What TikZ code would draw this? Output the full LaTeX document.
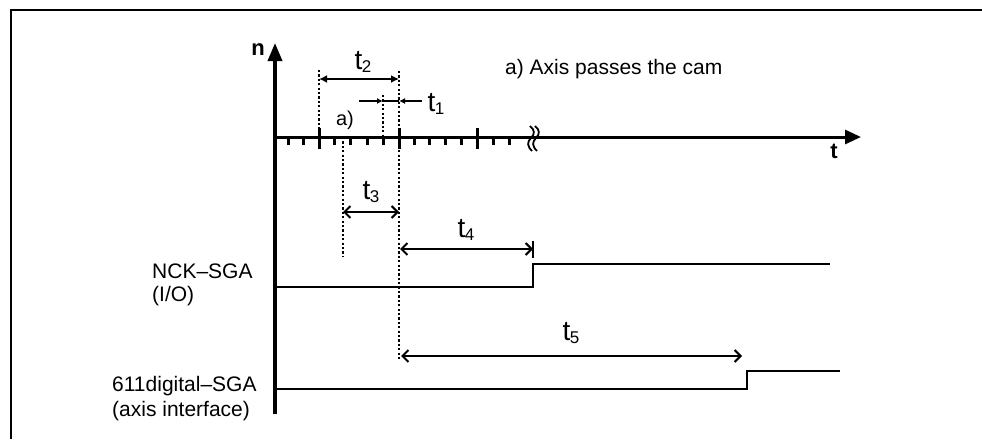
\documentclass[tikz,border=0pt]{standalone}
\usepackage{fontspec}
\setmainfont{Liberation Sans}
\usetikzlibrary{arrows.meta}
\newcommand\tlab[1]{t\kern-0.5pt\raisebox{-3.5pt}{\fontsize{17}{17}\selectfont #1}}
\begin{document}
\begin{tikzpicture}[x=1pt,y=-1pt,
  lbl/.style={inner sep=0pt, anchor=west, font=\fontsize{21}{24}\selectfont},
  tl/.style={inner sep=0pt, font=\fontsize{28}{30}\selectfont},
  axlbl/.style={inner sep=0pt, font=\fontsize{22}{24}\selectfont\bfseries},
  dotline/.style={line width=1.8pt, dash pattern=on 2.2pt off 2.2pt},
  dimline/.style={line width=1.7pt, {Straight Barb[length=6pt,width=12pt,line width=2pt]}-{Straight Barb[length=6pt,width=12pt,line width=2pt]}},
  fdim/.style={line width=1.9pt, {Latex[length=8pt,width=8pt]}-{Latex[length=8pt,width=8pt]}},
  small/.style={line width=1.7pt, -{Latex[length=6pt,width=6pt]}},
  minortick/.style={line width=3pt},
  majortick/.style={line width=3pt},
  signal/.style={line width=1.5pt},
  signalb/.style={line width=2.5pt}]
\useasboundingbox (0,0) rectangle (982,439);
% frame
\coordinate (fbl) at (11,439);
\coordinate (ftl) at (11,10);
\coordinate (ftr) at (982,10);
\draw[line width=1.8pt] (fbl) -- (ftl) -- (ftr);
% axes
\coordinate (o) at (275,137);
\coordinate (vbot) at (275,414);
\coordinate (vtop) at (275,43);
\coordinate (hend) at (861,137);
\draw[line width=3.5pt, -{Triangle[length=18pt,width=14pt]}] (vbot) -- (vtop);
\draw[line width=3pt, -{Triangle[length=16pt,width=14pt]}] (o) -- (hend);
\node[axlbl] (n) at (258,50) {n};
\node[axlbl] (t) at (834,151) {t};
% ticks
\foreach \x in {288,303,334,350,367,383,414,429,445,461,493,509}
  \draw[minortick] (\x,137) -- (\x,145);
\foreach \x in {319,399,477}
  \draw[majortick] (\x,128) -- (\x,149);
% break symbol
\foreach \x in {531,536}
  \draw[line width=1.8pt] (\x-1,126) .. controls (\x+4,130) and (\x+4,134) .. (\x,138)
     .. controls (\x-4,142) and (\x-4,146) .. (\x+1,151);
% text
\node[lbl] (cap) at (505,69) {a) Axis passes the cam};
\node[inner sep=0pt, font=\fontsize{20}{20}\selectfont] (a) at (345,120) {a)};
% dotted lines
\coordinate (d1t) at (319,70);  \coordinate (d1b) at (319,137);
\coordinate (d2t) at (399,71);  \coordinate (d2b) at (399,360);
\coordinate (d3t) at (383,95);  \coordinate (d3b) at (383,137);
\coordinate (d4t) at (343,137); \coordinate (d4b) at (343,256);
\draw[dotline] (d1t) -- (d1b);
\draw[dotline] (d2t) -- (d2b);
\draw[dotline] (d3t) -- (d3b);
\draw[dotline] (d4t) -- (d4b);
% t2
\coordinate (t2a) at (319,79); \coordinate (t2b) at (399,79);
\draw[fdim] (t2a) -- (t2b);
\node[tl] (lt2) at (363,62) {\tlab{2}};
% t1
\coordinate (t1l) at (359,101); \coordinate (t1m) at (383,101);
\coordinate (t1n) at (399,101); \coordinate (t1r) at (422,101);
\draw[small] (t1l) -- (t1m);
\draw[line width=1.7pt] (t1m) -- (t1n);
\draw[small] (t1r) -- (t1n);
\node[tl] (lt1) at (436,104) {\tlab{1}};
% t3
\coordinate (t3a) at (343,212); \coordinate (t3b) at (399,212);
\draw[dimline] (t3a) -- (t3b);
\node[tl] (lt3) at (371,192) {\tlab{3}};
% t4
\coordinate (t4a) at (400,249); \coordinate (t4b) at (533,249);
\draw[dimline] (t4a) -- (t4b);
\draw[line width=1.2pt] (533,241) -- (533,258);
\node[tl] (lt4) at (466,230) {\tlab{4}};
% t5
\coordinate (t5a) at (401,356); \coordinate (t5b) at (742,356);
\draw[dimline] (t5a) -- (t5b);
\node[tl] (lt5) at (571,333) {\tlab{5}};
% signals
\coordinate (s1a) at (275,287); \coordinate (s1b) at (533,287);
\coordinate (s1c) at (533,264); \coordinate (s1d) at (830,264);
\draw[signal] (s1a) -- (s1b) -- (s1c) -- (s1d);
\coordinate (s2a) at (275,389); \coordinate (s2b) at (747,389);
\coordinate (s2c) at (747,371); \coordinate (s2d) at (840,371);
\draw[signalb] (s2a) -- (s2b) -- (s2c) -- (s2d);
% left labels
\node[lbl] (nck) at (152,271) {NCK--SGA};
\node[lbl] (io) at (152,296) {(I/O)};
\node[lbl] (dig) at (112,386) {611digital--SGA};
\node[lbl] (ai) at (112,411) {(axis interface)};
\end{tikzpicture}
\end{document}
